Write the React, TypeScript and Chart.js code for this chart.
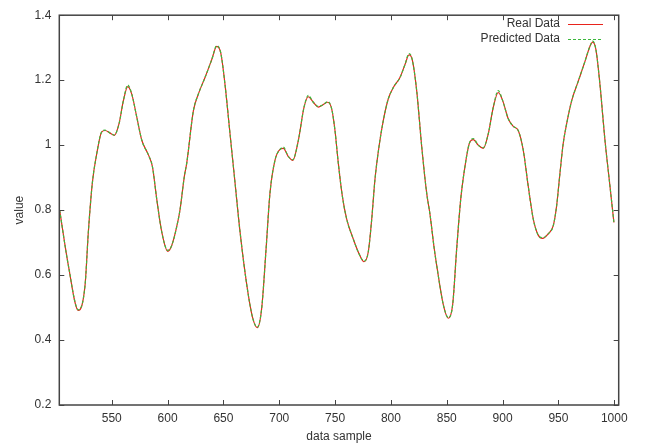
import React, { useEffect, useRef } from "react";
import { Chart, registerables } from "chart.js";

Chart.register(...registerables);

const sampleX = [
  503.3, 511.1, 520.1, 526.1, 529.0, 532.6, 536.6, 541.0, 544.0, 548.5,
  552.3, 556.5, 560.4, 564.3, 567.9, 572.4, 576.9, 582.8, 586.4, 590.3,
  594.8, 600.1, 603.7, 609.6, 611.2, 615.0, 617.1, 623.1, 627.5, 633.5,
  639.5, 644.0, 647.6, 651.4, 655.9, 660.4, 664.9, 670.9, 676.2, 680.4,
  684.3, 688.2, 691.7, 696.2, 700.7, 703.6, 708.1, 712.1, 717.1, 722.2,
  726.0, 730.5, 735.0, 739.5, 743.4, 747.0, 749.9, 752.9, 756.5, 760.4,
  766.3, 771.4, 775.9, 779.7, 782.8, 785.7, 789.3, 793.2, 797.6, 802.1,
  808.1, 812.6, 816.2, 819.1, 823.1, 827.6, 832.0, 835.0, 838.8, 841.0,
  846.9, 851.4, 855.3, 858.9, 862.5, 866.3, 870.2, 873.8, 878.2, 882.7,
  887.2, 891.7, 896.1, 900.1, 905.1, 909.6, 914.0, 918.5, 923.0, 927.5,
  931.9, 935.9, 940.9, 945.4, 948.4, 951.4, 954.3, 957.4, 961.9, 967.8,
  973.8, 978.2, 980.7, 983.6, 987.2, 991.7, 996.2, 999.7,
];

const realValues = [
  0.800, 0.630, 0.491, 0.570, 0.732, 0.884, 0.975, 1.041, 1.045, 1.037,
  1.030, 1.066, 1.137, 1.180, 1.157, 1.086, 1.015, 0.970, 0.934, 0.833,
  0.732, 0.673, 0.691, 0.772, 0.803, 0.904, 0.944, 1.106, 1.157, 1.208,
  1.263, 1.304, 1.284, 1.187, 1.035, 0.884, 0.732, 0.570, 0.468, 0.438,
  0.499, 0.681, 0.853, 0.954, 0.987, 0.990, 0.965, 0.953, 1.015, 1.117,
  1.149, 1.132, 1.117, 1.125, 1.132, 1.111, 1.045, 0.944, 0.843, 0.772,
  0.711, 0.666, 0.641, 0.671, 0.772, 0.894, 0.995, 1.076, 1.142, 1.177,
  1.208, 1.248, 1.278, 1.263, 1.167, 0.995, 0.853, 0.787, 0.681, 0.630,
  0.509, 0.467, 0.509, 0.681, 0.833, 0.934, 1.005, 1.017, 1.000, 0.990,
  1.035, 1.117, 1.162, 1.137, 1.081, 1.058, 1.045, 0.985, 0.873, 0.772,
  0.723, 0.713, 0.727, 0.752, 0.813, 0.914, 1.005, 1.066, 1.137, 1.197,
  1.258, 1.304, 1.317, 1.294, 1.187, 1.015, 0.873, 0.762,
];

const predictedValues = [
  0.800, 0.630, 0.493, 0.570, 0.732, 0.884, 0.975, 1.041, 1.046, 1.037,
  1.031, 1.066, 1.137, 1.185, 1.157, 1.086, 1.015, 0.970, 0.934, 0.833,
  0.732, 0.676, 0.691, 0.772, 0.803, 0.904, 0.944, 1.106, 1.157, 1.208,
  1.263, 1.306, 1.284, 1.187, 1.035, 0.884, 0.732, 0.570, 0.468, 0.440,
  0.499, 0.681, 0.853, 0.954, 0.987, 0.994, 0.965, 0.955, 1.015, 1.117,
  1.153, 1.132, 1.119, 1.125, 1.134, 1.111, 1.045, 0.944, 0.843, 0.772,
  0.711, 0.666, 0.643, 0.671, 0.772, 0.894, 0.995, 1.076, 1.142, 1.177,
  1.208, 1.248, 1.282, 1.263, 1.167, 0.995, 0.853, 0.787, 0.681, 0.630,
  0.509, 0.469, 0.509, 0.681, 0.833, 0.934, 1.005, 1.020, 1.000, 0.992,
  1.035, 1.117, 1.168, 1.137, 1.081, 1.058, 1.045, 0.985, 0.873, 0.772,
  0.723, 0.715, 0.727, 0.752, 0.813, 0.914, 1.005, 1.066, 1.137, 1.197,
  1.258, 1.304, 1.320, 1.294, 1.187, 1.015, 0.873, 0.762,
];

const xTicks = [550, 600, 650, 700, 750, 800, 850, 900, 950, 1000];
const yTicks = [0.2, 0.4, 0.6, 0.8, 1.0, 1.2, 1.4];
const yTickLabels = ["0.2", "0.4", "0.6", "0.8", "1", "1.2", "1.4"];
const seriesNames = ["Real Data", "Predicted Data"];
const xTitle = "data sample";
const yTitle = "value";

const FONT = "'Liberation Sans', Arial, sans-serif";
const TEXT = "#333333";
const RED = "#e8231c";
const GREEN = "#3cb83c";

const framePlugin = {
  id: "gnuFrame",
  afterDraw(chart: any) {
    const { ctx, chartArea: a, scales } = chart;
    const xs = scales.x;
    const ys = scales.y;
    ctx.save();
    ctx.strokeStyle = "#444444";
    ctx.lineWidth = 1.5;
    ctx.strokeRect(a.left, a.top, a.right - a.left, a.bottom - a.top);
    ctx.lineWidth = 1;
    ctx.beginPath();
    for (const v of xTicks) {
      const p = Math.round(xs.getPixelForValue(v)) + 0.5;
      ctx.moveTo(p, a.bottom);
      ctx.lineTo(p, a.bottom - 5);
      ctx.moveTo(p, a.top);
      ctx.lineTo(p, a.top + 5);
    }
    for (const v of yTicks) {
      const p = Math.round(ys.getPixelForValue(v)) + 0.5;
      ctx.moveTo(a.left, p);
      ctx.lineTo(a.left + 5, p);
      ctx.moveTo(a.right, p);
      ctx.lineTo(a.right - 5, p);
    }
    ctx.stroke();

    // axis titles
    ctx.fillStyle = TEXT;
    ctx.font = `12px ${FONT}`;
    ctx.textAlign = "center";
    ctx.textBaseline = "middle";
    ctx.fillText(xTitle, (a.left + a.right) / 2, 437);
    ctx.save();
    ctx.translate(20, (a.top + a.bottom) / 2);
    ctx.rotate(-Math.PI / 2);
    ctx.fillText(yTitle, 0, 0);
    ctx.restore();

    // legend
    ctx.textAlign = "right";
    const rows = [
      { name: seriesNames[0], color: RED, dash: [] as number[], y: 24 },
      { name: seriesNames[1], color: GREEN, dash: [3, 2], y: 39 },
    ];
    for (const r of rows) {
      ctx.fillStyle = TEXT;
      ctx.fillText(r.name, 560, r.y);
      ctx.strokeStyle = r.color;
      ctx.lineWidth = 1;
      ctx.setLineDash(r.dash);
      ctx.beginPath();
      ctx.moveTo(568, r.y + 0.5);
      ctx.lineTo(603, r.y + 0.5);
      ctx.stroke();
    }
    ctx.setLineDash([]);
    ctx.restore();
  },
};

export default function App() {
  const ref = useRef<HTMLCanvasElement>(null);
  useEffect(() => {
    document.body.style.margin = "0";
    const canvas = ref.current;
    if (!canvas) return;
    Chart.defaults.font.family = FONT;
    const real = sampleX.map((x, i) => ({ x, y: realValues[i] }));
    const pred = sampleX.map((x, i) => ({ x, y: predictedValues[i] }));
    const chart = new Chart(canvas, {
      type: "line",
      data: {
        datasets: [
          {
            label: seriesNames[0],
            data: real,
            borderColor: RED,
            borderWidth: 1.2,
            pointRadius: 0,
            cubicInterpolationMode: "monotone",
            order: 2,
          },
          {
            label: seriesNames[1],
            data: pred,
            borderColor: GREEN,
            borderWidth: 1.2,
            borderDash: [3, 2],
            pointRadius: 0,
            cubicInterpolationMode: "monotone",
            order: 1,
          },
        ],
      },
      options: {
        animation: false,
        responsive: false,
        devicePixelRatio: 1,
        layout: { padding: { top: 10, right: 33.3, left: 0, bottom: 0 } },
        plugins: {
          legend: { display: false },
          tooltip: { enabled: false },
          title: { display: false },
        },
        scales: {
          x: {
            type: "linear",
            min: 503,
            max: 1004,
            grid: { display: false, drawTicks: false },
            border: { display: false },
            afterBuildTicks: (s: any) => {
              s.ticks = xTicks.map((v) => ({ value: v }));
            },
            afterFit: (s: any) => {
              s.height = 43;
            },
            ticks: {
              autoSkip: false,
              maxRotation: 0,
              padding: 6,
              color: TEXT,
              font: { size: 12, family: FONT },
              callback: (v: any) => String(v),
            },
          },
          y: {
            type: "linear",
            min: 0.2,
            max: 1.4,
            grid: { display: false, drawTicks: false },
            border: { display: false },
            afterBuildTicks: (s: any) => {
              s.ticks = yTicks.map((v) => ({ value: v }));
            },
            afterFit: (s: any) => {
              s.width = 59.3;
            },
            ticks: {
              autoSkip: false,
              padding: 8,
              color: TEXT,
              font: { size: 12, family: FONT },
              callback: (v: any) => {
                const i = yTicks.findIndex((t) => Math.abs(t - v) < 1e-6);
                return i >= 0 ? yTickLabels[i] : "";
              },
            },
          },
        },
      },
      plugins: [framePlugin],
    });
    return () => chart.destroy();
  }, []);
  return (
    <div style={{ position: "absolute", left: 0, top: 0, width: 652, height: 448 }}>
      <canvas ref={ref} width={652} height={448} style={{ display: "block", width: 652, height: 448 }} />
    </div>
  );
}
